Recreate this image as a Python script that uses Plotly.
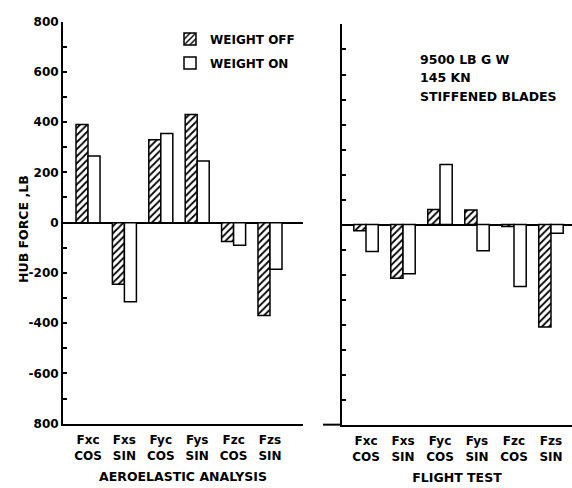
import plotly.graph_objects as go

W, H = 572, 488

categories = ["Fxc<br>COS", "Fxs<br>SIN", "Fyc<br>COS", "Fys<br>SIN", "Fzc<br>COS", "Fzs<br>SIN"]

# Aeroelastic analysis (lb)
analysis_off = [390, -245, 330, 430, -75, -370]
analysis_on = [265, -315, 355, 245, -90, -185]

# Flight test (lb)
flight_off = [-25, -215, 60, 58, -8, -410]
flight_on = [-108, -197, 240, -105, -248, -35]

ytick_vals = list(range(-800, 801, 100))
ytick_text = ["800", "", "-600", "", "-400", "", "-200", "", "0", "", "200", "", "400", "", "600", "", "800"]

FONT = "DejaVu Sans"


def px(x):
    return x / W


def py(y):
    return 1 - y / H


def b(t):
    return "<b>" + t + "</b>"


hatch = dict(shape="/", size=5, solidity=0.35, fgcolor="black", bgcolor="white", fillmode="replace")
outline = dict(color="black", width=1.5)

fig = go.Figure()
fig.add_trace(go.Bar(x=categories, y=analysis_off, name=b("WEIGHT OFF"), xaxis="x", yaxis="y",
                     marker=dict(color="white", pattern=hatch, line=outline), legendgroup="off"))
fig.add_trace(go.Bar(x=categories, y=analysis_on, name=b("WEIGHT ON"), xaxis="x", yaxis="y",
                     marker=dict(color="white", line=outline), legendgroup="on"))
fig.add_trace(go.Bar(x=categories, y=flight_off, name="WEIGHT OFF", xaxis="x2", yaxis="y2",
                     marker=dict(color="white", pattern=hatch, line=outline), showlegend=False))
fig.add_trace(go.Bar(x=categories, y=flight_on, name="WEIGHT ON", xaxis="x2", yaxis="y2",
                     marker=dict(color="white", line=outline), showlegend=False))

ydom = [py(429), py(15)]
y2dom = [py(430), py(18)]

common_y = dict(range=[-800, 800], tickvals=ytick_vals, ticks="inside", ticklen=4, tickwidth=1.5,
                tickcolor="black", showline=True, linecolor="black", linewidth=2, showgrid=False,
                zeroline=True, zerolinecolor="black", zerolinewidth=2, fixedrange=True)
common_x = dict(showline=True, linecolor="black", linewidth=2, showgrid=False, ticks="",
                tickfont=dict(size=12, weight="bold"), ticklabelstandoff=4, fixedrange=True)

fig.update_layout(
    width=W, height=H,
    margin=dict(l=0, r=0, t=0, b=0),
    paper_bgcolor="white", plot_bgcolor="white",
    font=dict(family=FONT, size=12, color="black"),
    barmode="group", bargap=0.34, bargroupgap=0,
    showlegend=True,
    legend=dict(x=px(170), y=py(18), xanchor="left", yanchor="top", bgcolor="rgba(0,0,0,0)",
                font=dict(size=12), tracegroupgap=5, traceorder="grouped"),
    xaxis=dict(domain=[px(63), px(303)], range=[-0.687, 5.907], anchor="y",
               title=dict(text=b("AEROELASTIC ANALYSIS"), standoff=11, font=dict(size=12.5)), **common_x),
    yaxis=dict(domain=ydom, anchor="x", ticktext=ytick_text, showticklabels=True,
               tickfont=dict(size=12, weight="bold"), **common_y),
    xaxis2=dict(domain=[px(342), px(572)], range=[-0.649, 5.568], anchor="y2",
                title=dict(text=b("FLIGHT TEST"), standoff=11, font=dict(size=12.5)), **common_x),
    yaxis2=dict(domain=y2dom, anchor="x2", showticklabels=False, **common_y),
)

# y-axis title of the left panel
fig.add_annotation(text=b("HUB FORCE ,LB"), xref="paper", yref="paper", x=px(14), y=py(229),
                   textangle=-90, showarrow=False, font=dict(size=12.5))

# short extension of the right panel's base line to the left of its axis
fig.add_shape(type="line", xref="x2 domain", yref="y2 domain", x0=-19 / 230, x1=0, y0=0, y1=0,
              line=dict(color="black", width=2))

notes = ["9500 LB G W", "145 KN", "STIFFENED BLADES"]
for i, t in enumerate(notes):
    fig.add_annotation(text=b(t), xref="paper", yref="paper", x=px(418), y=py(54 + 19 * i),
                       xanchor="left", yanchor="middle", showarrow=False, font=dict(size=12.5))

fig.write_html("out.html")
